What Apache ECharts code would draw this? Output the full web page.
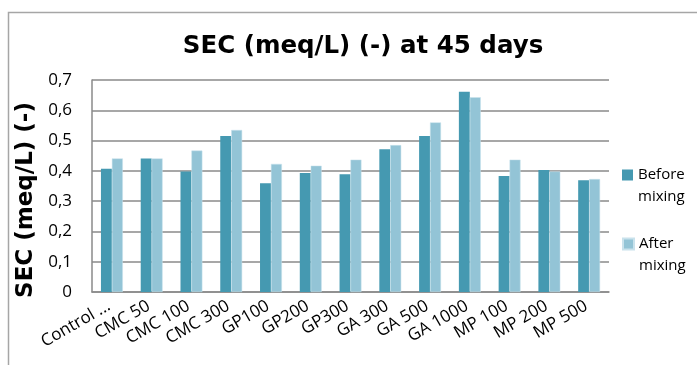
<!DOCTYPE html>
<html>
<head>
<meta charset="utf-8">
<script src="https://cdn.jsdelivr.net/npm/echarts@6/dist/echarts.min.js"></script>
<style>
  html, body { margin: 0; padding: 0; background: #fff; }
  #chart { width: 697px; height: 365px; }
</style>
</head>
<body>
<div id="chart"></div>
<script>
// Treatments sampled at 45 days
const categories = ['Control ...', 'CMC 50', 'CMC 100', 'CMC 300', 'GP100', 'GP200', 'GP300',
  'GA 300', 'GA 500', 'GA 1000', 'MP 100', 'MP 200', 'MP 500'];
const beforeMixing = [0.407, 0.441, 0.398, 0.515, 0.359, 0.393, 0.389, 0.471, 0.515, 0.661, 0.383, 0.403, 0.369];
const afterMixing  = [0.441, 0.441, 0.467, 0.535, 0.423, 0.417, 0.437, 0.485, 0.560, 0.643, 0.437, 0.398, 0.373];
const seriesNames = ['Before mixing', 'After mixing'];
const yTicks = { min: 0, max: 0.7, interval: 0.1 };
const yTitle = 'SEC (meq/L) (-)';

const FONT = '"Open Sans", Lato, sans-serif';
const BOLD_FONT = '"DejaVu Sans", "Open Sans", sans-serif';
const GRID_COLOR = '#8a8a8a';

const chart = echarts.init(document.getElementById('chart'), null, { renderer: 'canvas' });

// One legend block per series; the square sits level with the first line of the name
function legendFor(name, top) {
  return {
    data: [name],
    orient: 'vertical',
    left: 622,
    top: top,
    padding: 0,
    itemWidth: 11,
    itemHeight: 11,
    itemGap: 5,
    icon: 'rect',
    selectedMode: false,
    formatter: n => ' \n' + n.replace(' ', '\n'),
    textStyle: { fontFamily: FONT, fontSize: 15, color: '#000', lineHeight: 22 }
  };
}

chart.setOption({
  animation: false,
  backgroundColor: '#fff',
  title: {
    text: 'SEC (meq/L) (-) at 45 days',
    left: 358,
    top: 29,
    textAlign: 'center',
    textStyle: { fontFamily: BOLD_FONT, fontWeight: 'bold', fontSize: 24.5, color: '#000' }
  },
  legend: [legendFor(seriesNames[0], 142), legendFor(seriesNames[1], 211)],
  grid: { left: 92, right: 88, top: 80, bottom: 73, containLabel: false, outerBoundsMode: 'none' },
  xAxis: {
    type: 'category',
    data: categories,
    axisLine: { lineStyle: { color: GRID_COLOR, width: 1.5 } },
    axisTick: { show: false },
    axisLabel: {
      interval: 0, rotate: 30, margin: 0,
      // an empty block above each name pushes the rotated text clear of the axis
      formatter: v => '{gap| }\n{name|' + v + '  }',
      rich: {
        gap: { fontSize: 1, lineHeight: 19 },
        name: { fontFamily: FONT, fontSize: 17, color: '#000', lineHeight: 22 }
      }
    }
  },
  yAxis: {
    type: 'value',
    min: yTicks.min, max: yTicks.max, interval: yTicks.interval,
    axisLine: { show: true, lineStyle: { color: GRID_COLOR, width: 1.5 } },
    axisTick: { show: false },
    splitLine: { lineStyle: { color: GRID_COLOR, width: 1.5 } },
    axisLabel: {
      margin: 20, fontFamily: FONT, fontSize: 17, color: '#000',
      formatter: v => String(Math.round(v * 10) / 10).replace('.', ',')
    }
  },
  series: [
    {
      name: seriesNames[0], type: 'bar', data: beforeMixing,
      barGap: '0%', barCategoryGap: '45%',
      itemStyle: { color: '#4599b1' }
    },
    {
      name: seriesNames[1], type: 'bar', data: afterMixing,
      barGap: '0%', barCategoryGap: '45%',
      itemStyle: { color: '#93c4d6', borderColor: '#c9e2ec', borderWidth: 0.5 }
    }
  ],
  graphic: [
    {
      // outer frame: left and top edges only
      type: 'polyline',
      silent: true,
      shape: { points: [[8.5, 365], [8.5, 12.5], [697, 12.5]] },
      style: { stroke: '#a6a6a6', lineWidth: 1.5, fill: null }
    },
    {
      // vertical value-axis title, reading bottom to top
      type: 'text',
      silent: true,
      x: 26,
      y: 200,
      rotation: Math.PI / 2,
      style: {
        text: yTitle,
        align: 'center',
        verticalAlign: 'middle',
        fontFamily: BOLD_FONT,
        fontWeight: 'bold',
        fontSize: 23,
        fill: '#000'
      }
    }
  ]
});
</script>
</body>
</html>
